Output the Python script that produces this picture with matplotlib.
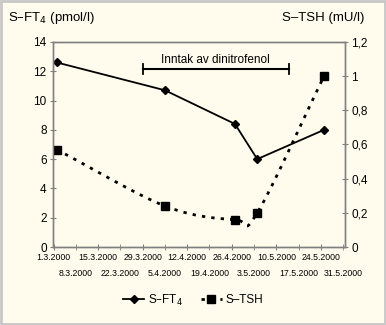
import numpy as np
import matplotlib.pyplot as plt
import matplotlib.dates as mdates
from datetime import date, timedelta

plt.rcParams['font.family'] = ['Liberation Sans', 'DejaVu Sans']

# Måledatoer og verdier
datoer = [date(2000, 3, 2), date(2000, 4, 5), date(2000, 4, 27), date(2000, 5, 4), date(2000, 5, 25)]
ft4 = [12.6, 10.7, 8.4, 6.0, 8.0]
tsh = [0.57, 0.24, 0.16, 0.2, 1.0]

# Periode med inntak av dinitrofenol
inntak_start = date(2000, 3, 29)
inntak_slutt = date(2000, 5, 14)
inntak_tekst = 'Inntak av dinitrofenol'

bg = '#fffcee'
grey = '#808080'


def glatt(x, y, n=30):
    # Catmull-Rom-kurve gjennom punktene, slik Excel glatter linjer
    x = np.asarray(x, float)
    y = np.asarray(y, float)
    px = np.concatenate([[2 * x[0] - x[1]], x, [2 * x[-1] - x[-2]]])
    py = np.concatenate([[2 * y[0] - y[1]], y, [2 * y[-1] - y[-2]]])
    xs, ys = [], []
    for i in range(1, len(px) - 2):
        t = np.linspace(0, 1, n)
        for p, out in ((px, xs), (py, ys)):
            p0, p1, p2, p3 = p[i - 1], p[i], p[i + 1], p[i + 2]
            out.extend(0.5 * ((2 * p1) + (-p0 + p2) * t
                              + (2 * p0 - 5 * p1 + 4 * p2 - p3) * t ** 2
                              + (-p0 + 3 * p1 - 3 * p2 + p3) * t ** 3))
    return np.array(xs), np.array(ys)


fig = plt.figure(figsize=(3.86, 3.25), dpi=100, facecolor=bg)
ax = fig.add_axes([0.137, 0.24, 0.757, 0.631], facecolor=bg)
ax2 = ax.twinx()

xd = mdates.date2num(datoer)
ax.plot(xd, ft4, color='black', lw=1.3, marker='D', ms=4.5)

sx, sy = glatt(xd, tsh)
ax2.plot(sx, sy, color='black', lw=2, linestyle=(0, (1.2, 2.2)))
ax2.plot(xd, tsh, color='black', lw=0, marker='s', ms=5.5)

# Stolpe for inntaksperioden
ys = 12.15
ax.plot([mdates.date2num(inntak_start), mdates.date2num(inntak_slutt)], [ys, ys],
        color='black', lw=1.5)
for d in (inntak_start, inntak_slutt):
    ax.plot([mdates.date2num(d)] * 2, [ys - 0.35, ys + 0.35], color='black', lw=1.3)
midt = (mdates.date2num(inntak_start) + mdates.date2num(inntak_slutt)) / 2
ax.text(midt, ys + 0.2, inntak_tekst, ha='center', va='bottom', fontsize=8.5)

# Datoakse: annenhver etikett på andre rad
start = date(2000, 3, 1)
ticks = [start + timedelta(days=7 * i) for i in range(14)]
labels = [f'{d.day}.{d.month}.{d.year}' for d in ticks]
ax.set_xticks(mdates.date2num(ticks[0::2]))
ax.set_xticklabels(labels[0::2], fontsize=6.3)
ax.set_xticks(mdates.date2num(ticks[1::2]), minor=True)
ax.set_xticklabels(labels[1::2], fontsize=6.3, minor=True)
ax.set_xlim(mdates.date2num(start) - 0.2, mdates.date2num(date(2000, 5, 31)) + 0.6)

ax.set_ylim(0, 14)
ax.set_yticks(range(0, 15, 2))
ax2.set_ylim(0, 1.2)
ax2.set_yticks(np.arange(0, 1.21, 0.2))
ax2.set_yticklabels(['0', '0,2', '0,4', '0,6', '0,8', '1', '1,2'])

for a in (ax, ax2):
    for s in a.spines.values():
        s.set_color(grey)
        s.set_linewidth(1)
ax.tick_params(axis='y', direction='inout', length=5, color=grey, labelsize=8.5, pad=2)
ax2.tick_params(axis='y', direction='inout', length=5, color=grey, labelsize=8.5, pad=2)
ax.tick_params(axis='x', which='major', direction='inout', length=5, color=grey, pad=2)
ax.tick_params(axis='x', which='minor', direction='inout', length=5, color=grey, pad=13)

fig.text(0.02, 0.935, 'S–FT$_4$ (pmol/l)', fontsize=9.5)
fig.text(0.945, 0.935, 'S–TSH (mU/l)', fontsize=9.5, ha='right')

# Forklaring
h1 = plt.Line2D([], [], color='black', lw=1.3, marker='D', ms=4.5)
h2 = plt.Line2D([], [], color='black', lw=2, linestyle=(0, (1.2, 2.2)), marker='s', ms=5.5)
fig.legend([h1, h2], ['S–FT$_4$', 'S–TSH'], loc='center', bbox_to_anchor=(0.5, 0.077),
           ncol=2, frameon=False, fontsize=8.5, handlelength=1.8, handletextpad=0.3,
           columnspacing=1.5)

# Ramme rundt figuren
fig.patches.append(plt.Rectangle((0.002, 0.004), 0.996, 0.993, transform=fig.transFigure,
                                 fill=False, edgecolor='#c8c8c8', lw=2))

fig.savefig('out.png', dpi=100, facecolor=bg)
